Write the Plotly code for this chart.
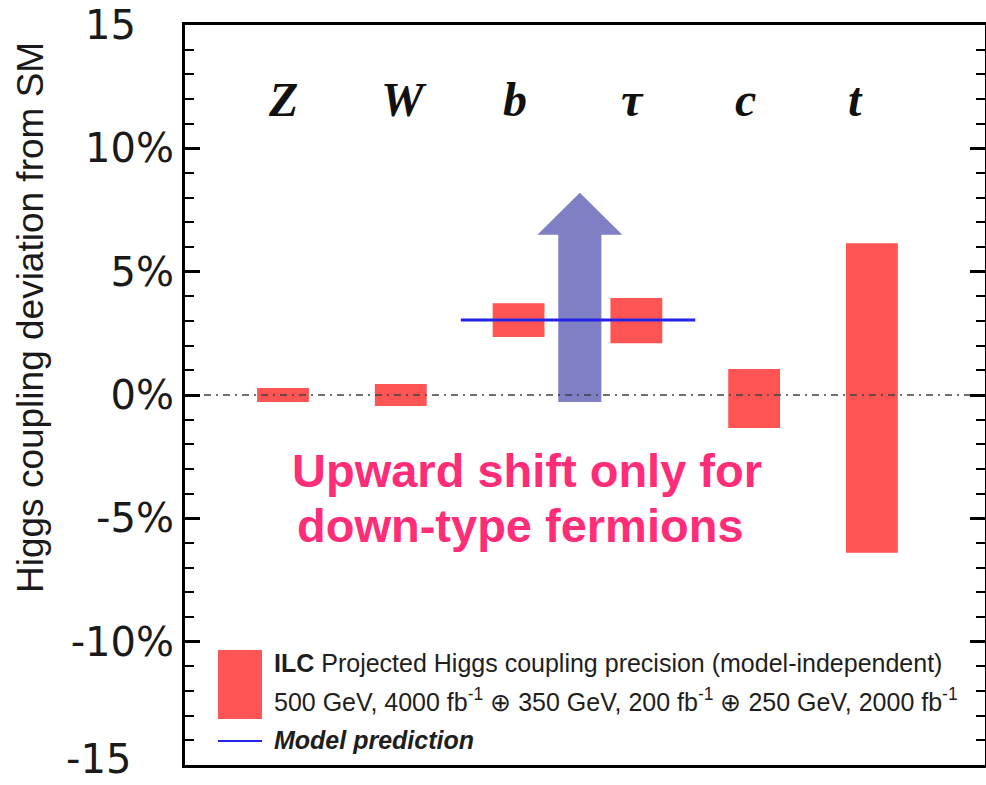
import numpy as np
import plotly.graph_objects as go

# ---------------- data ----------------
categories = ["Z", "W", "b", "τ", "c", "t"]
cat_pos = [0, 1, 2, 3, 4, 5]
label_pos = [0.0, 1.03, 1.97, 2.97, 3.93, 4.86]   # where the category names sit
label_y = 12.0
err_low = [-0.28, -0.45, 2.35, 2.10, -1.34, -6.40]   # % deviation, lower edge
err_high = [0.28, 0.45, 3.72, 3.93, 1.05, 6.15]      # % deviation, upper edge

model_x = [1.51, 3.50]
model_y = [3.04, 3.04]

arrow_x = 2.52
arrow_from = -0.28
arrow_shaft_top = 6.50
arrow_tip = 8.20
arrow_shaft_half = 0.183
arrow_head_half = 0.36

NB = "\u00a0"
y_ticks = [-15, -10, -5, 0, 5, 10, 15]
y_ticktext = ["", "-10%", "-5%", "0%", "5%", "10%", "15" + NB * 3]
bottom_tick_text = "-15"
x_range = [-0.832, 5.96]
y_range = [-15, 15]

ytitle = "Higgs coupling deviation from SM"
note_lines = ["Upward shift only for", "down-type fermions"]
legend_l1 = "<b>ILC</b> Projected Higgs coupling precision (model-independent)"
legend_l2 = ("500 GeV, 4000 fb<sup>-1</sup> ⊕ 350 GeV, 200 fb<sup>-1</sup> "
             "⊕ 250 GeV, 2000 fb<sup>-1</sup>")
legend_l3 = "Model prediction"

RED = "#FF5454"
BLUE = "#2424E8"
ARROW = "#7F7FC6"
PINK = "#FF2D78"

W, H = 986, 785
ML, MR, MT, MB = 185, 1, 25, 20
PW, PH = W - ML - MR, H - MT - MB


def px(xpix):
    return (xpix - ML) / PW


def py(ypix):
    return (H - MB - ypix) / PH


fig = go.Figure()

# error boxes
fig.add_trace(go.Bar(
    x=cat_pos,
    y=[h - l for h, l in zip(err_high, err_low)],
    base=err_low,
    width=0.44,
    marker=dict(color=RED, line=dict(width=0)),
    showlegend=False, hoverinfo="skip",
))

# upward arrow
ax = [arrow_x - arrow_shaft_half, arrow_x - arrow_shaft_half, arrow_x - arrow_head_half,
      arrow_x, arrow_x + arrow_head_half, arrow_x + arrow_shaft_half,
      arrow_x + arrow_shaft_half, arrow_x - arrow_shaft_half]
ay = [arrow_from, arrow_shaft_top, arrow_shaft_top, arrow_tip, arrow_shaft_top,
      arrow_shaft_top, arrow_from, arrow_from]
fig.add_trace(go.Scatter(x=ax, y=ay, mode="lines", fill="toself",
                         fillcolor=ARROW, line=dict(width=0, color=ARROW),
                         showlegend=False, hoverinfo="skip"))

# zero line
fig.add_trace(go.Scatter(x=x_range, y=[0, 0], mode="lines",
                         line=dict(color="#404040", width=1.6, dash="7px,5px,2px,5px"),
                         showlegend=False, hoverinfo="skip"))

# model prediction
fig.add_trace(go.Scatter(x=model_x, y=model_y, mode="lines",
                         line=dict(color=BLUE, width=3),
                         showlegend=False, hoverinfo="skip"))

annotations = []
for name, xp in zip(categories, label_pos):
    annotations.append(dict(x=xp, y=label_y, xref="x", yref="y", text=name,
                            showarrow=False,
                            font=dict(family="Liberation Serif, Times New Roman, serif",
                                      size=48, color="#111111", weight="bold",
                                      style="italic")))

# bottom tick label (kept inside the page)
annotations.append(dict(x=px(133), y=py(784), xref="paper", yref="paper",
                        text=bottom_tick_text, xanchor="right", yanchor="bottom",
                        showarrow=False,
                        font=dict(family="DejaVu Sans, sans-serif", size=40, color="#1a1a1a")))

# y title
annotations.append(dict(x=px(31), y=py(318), xref="paper", yref="paper", text=ytitle,
                        textangle=-90, showarrow=False, xanchor="center", yanchor="middle",
                        font=dict(family="Liberation Sans, Arial, sans-serif", size=37,
                                  color="#1a1a1a")))

# pink note
annotations.append(dict(x=px(290), y=py(470), xref="paper", yref="paper", text=note_lines[0],
                        xanchor="left", yanchor="middle", showarrow=False,
                        font=dict(family="Liberation Sans, Arial, sans-serif", size=47,
                                  color=PINK, weight="bold")))
annotations.append(dict(x=px(295), y=py(525), xref="paper", yref="paper", text=note_lines[1],
                        xanchor="left", yanchor="middle", showarrow=False,
                        font=dict(family="Liberation Sans, Arial, sans-serif", size=47,
                                  color=PINK, weight="bold")))

# legend text
legend_font = dict(family="Liberation Sans, Arial, sans-serif", size=25, color="#1e1e1e")
for txt, yy, extra in [(legend_l1, 663, {}), (legend_l2, 700, {}),
                       (legend_l3, 740, dict(weight="bold", style="italic"))]:
    annotations.append(dict(x=px(272), y=py(yy), xref="paper", yref="paper", text=txt,
                            xanchor="left", yanchor="middle", showarrow=False,
                            font={**legend_font, **extra}))

shapes = [
    dict(type="rect", xref="paper", yref="paper", x0=px(218), x1=px(262),
         y0=py(719), y1=py(650), fillcolor=RED, line=dict(width=0)),
    dict(type="line", xref="paper", yref="paper", x0=px(218), x1=px(262),
         y0=py(741), y1=py(741), line=dict(color=BLUE, width=2)),
]

fig.update_layout(
    width=W, height=H,
    margin=dict(l=ML, r=MR, t=MT, b=MB, autoexpand=False),
    paper_bgcolor="white", plot_bgcolor="white",
    barmode="overlay",
    showlegend=False,
    annotations=annotations,
    shapes=shapes,
    xaxis=dict(range=x_range, showticklabels=False, tickvals=[], showgrid=False,
               zeroline=False, automargin=False,
               showline=True, linecolor="black", linewidth=3, mirror=True, ticks=""),
    yaxis=dict(range=y_range, tickvals=y_ticks, ticktext=y_ticktext, automargin=False,
               ticks="inside", ticklen=15, tickwidth=2.5, tickcolor="black",
               showline=True, linecolor="black", linewidth=3, mirror="ticks",
               showgrid=False, zeroline=False, ticklabeloverflow="allow",
               minor=dict(dtick=1, ticks="inside", ticklen=9, tickwidth=2,
                          tickcolor="black", showgrid=False),
               tickfont=dict(family="DejaVu Sans, sans-serif", size=40, color="#1a1a1a")),
)

fig.write_html("out.html")
